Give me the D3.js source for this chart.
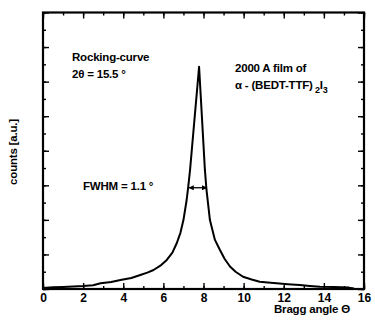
<!DOCTYPE html>
<html>
<head>
<meta charset="utf-8">
<script src="https://cdn.jsdelivr.net/npm/d3@7/dist/d3.min.js"></script>
<style>
  body { margin: 0; background: #fff; }
  svg { display: block; font-family: "Liberation Sans", Arial, sans-serif; }
  .ax path { display: none; }
  .ax line { stroke: #000; stroke-width: 1.4; }
  .ax text { font-size: 12px; font-weight: bold; fill: #000; }
  .note { font-size: 11.5px; font-weight: bold; fill: #000; letter-spacing: -0.2px; }
</style>
</head>
<body>
<div id="chart"></div>
<script>
// rocking curve
const angle = [0, 0.5, 1, 1.5, 2, 2.5, 2.87, 3.4, 3.86, 4.4, 4.85, 5.2, 5.51, 5.85, 6.17, 6.45, 6.67, 6.85, 7.0, 7.16, 7.24, 7.33,
  7.78, 8.07, 8.15, 8.32, 8.57, 8.82, 9.05, 9.32, 9.6, 9.97, 10.4, 10.8, 11.2, 11.65, 12.2, 12.8, 13.3, 13.8, 14.5, 15.25, 15.5]
const counts = [0.06, 0.1, 0.12, 0.14, 0.17, 0.22, 0.33, 0.4, 0.52, 0.64, 0.81, 0.95, 1.1, 1.35, 1.68, 2.1, 2.66, 3.25, 3.99, 5.15, 5.92, 6.89,
  12.86, 6.89, 5.73, 3.99, 2.84, 2.26, 1.75, 1.3, 1.0, 0.71, 0.55, 0.42, 0.38, 0.33, 0.28, 0.23, 0.18, 0.13, 0.11, 0.08, 0.03]

const xTicks = [0, 2, 4, 6, 8, 10, 12, 14, 16]
const fwhmEnds = [7.28, 8.16]
const fwhmLevel = 5.86

const W = 375, H = 323
const chart = {left: 43, right: 364, top: 12.5, bottom: 289}

const svg = d3.select('#chart').append('svg').attr('width', W).attr('height', H)

const x = d3.scaleLinear().domain([0, 16]).range([chart.left, chart.right])
const y = d3.scaleLinear().domain([0, 16]).range([chart.bottom, chart.top])

const minorX = d3.range(0, 17, 1)
const minorY = d3.range(0, 17, 1)
const majorY = d3.range(0, 17, 2)

// bottom: labels + inward ticks
svg.append('g').attr('class', 'ax').attr('transform', `translate(0,${chart.bottom})`)
  .call(d3.axisBottom(x).tickValues(xTicks).tickSize(-6).tickPadding(4).tickFormat(d3.format('d')))
svg.append('g').attr('class', 'ax').attr('transform', `translate(0,${chart.bottom})`)
  .call(d3.axisBottom(x).tickValues(minorX).tickSize(-3).tickFormat(''))
// top
svg.append('g').attr('class', 'ax').attr('transform', `translate(0,${chart.top})`)
  .call(d3.axisTop(x).tickValues(xTicks).tickSize(-6).tickFormat(''))
svg.append('g').attr('class', 'ax').attr('transform', `translate(0,${chart.top})`)
  .call(d3.axisTop(x).tickValues(minorX).tickSize(-3).tickFormat(''))
// left / right, no labels
svg.append('g').attr('class', 'ax').attr('transform', `translate(${chart.left},0)`)
  .call(d3.axisLeft(y).tickValues(majorY).tickSize(-6).tickFormat(''))
svg.append('g').attr('class', 'ax').attr('transform', `translate(${chart.left},0)`)
  .call(d3.axisLeft(y).tickValues(minorY).tickSize(-3).tickFormat(''))
svg.append('g').attr('class', 'ax').attr('transform', `translate(${chart.right},0)`)
  .call(d3.axisRight(y).tickValues(majorY).tickSize(-6).tickFormat(''))
svg.append('g').attr('class', 'ax').attr('transform', `translate(${chart.right},0)`)
  .call(d3.axisRight(y).tickValues(minorY).tickSize(-3).tickFormat(''))

// frame
svg.append('rect')
  .attr('x', chart.left).attr('y', chart.top)
  .attr('width', chart.right - chart.left).attr('height', chart.bottom - chart.top)
  .attr('fill', 'none').attr('stroke', '#000').attr('stroke-width', 2.2)

// curve
const line = d3.line().x((d) => x(d[0])).y((d) => y(d[1]))
svg.append('path')
  .datum(d3.zip(angle, counts))
  .attr('d', line)
  .attr('fill', 'none')
  .attr('stroke', '#000')
  .attr('stroke-width', 2)
  .attr('stroke-linejoin', 'round')

// FWHM arrow
const defs = svg.append('defs')
defs.append('marker').attr('id', 'head')
  .attr('viewBox', '0 0 10 10').attr('refX', 9).attr('refY', 5)
  .attr('markerWidth', 4).attr('markerHeight', 4).attr('orient', 'auto-start-reverse')
  .append('path').attr('d', 'M0,0 L10,5 L0,10 Z').attr('fill', '#000')
svg.append('line')
  .attr('x1', x(fwhmEnds[0])).attr('x2', x(fwhmEnds[1]))
  .attr('y1', y(fwhmLevel)).attr('y2', y(fwhmLevel))
  .attr('stroke', '#000').attr('stroke-width', 1.3)
  .attr('marker-start', 'url(#head)').attr('marker-end', 'url(#head)')

// annotations
const note = (tx, ty, txt) => svg.append('text').attr('class', 'note').attr('x', tx).attr('y', ty).text(txt)
note(72, 61, 'Rocking-curve')
note(72, 78, '2θ = 15.5 °')
note(235, 72, '2000 A film of')
note(83, 190, 'FWHM = 1.1 °')
const chem = svg.append('text').attr('class', 'note').attr('x', 235).attr('y', 89)
chem.append('tspan').text('α - (BEDT-TTF)')
chem.append('tspan').attr('dy', 4).attr('font-size', 9).text(' 2')
chem.append('tspan').attr('dy', -4).text('I')
chem.append('tspan').attr('dy', 4).attr('font-size', 9).text('3')

svg.append('text').attr('class', 'note').attr('x', 350).attr('y', 313)
  .attr('text-anchor', 'end').attr('font-size', 11).attr('font-weight', 'normal').text('Bragg angle Θ')
svg.append('text').attr('class', 'note')
  .attr('transform', 'translate(17,152) rotate(-90)')
  .attr('text-anchor', 'middle').attr('font-size', 11).attr('font-weight', 'normal').text('counts [a.u.]')
</script>
</body>
</html>
